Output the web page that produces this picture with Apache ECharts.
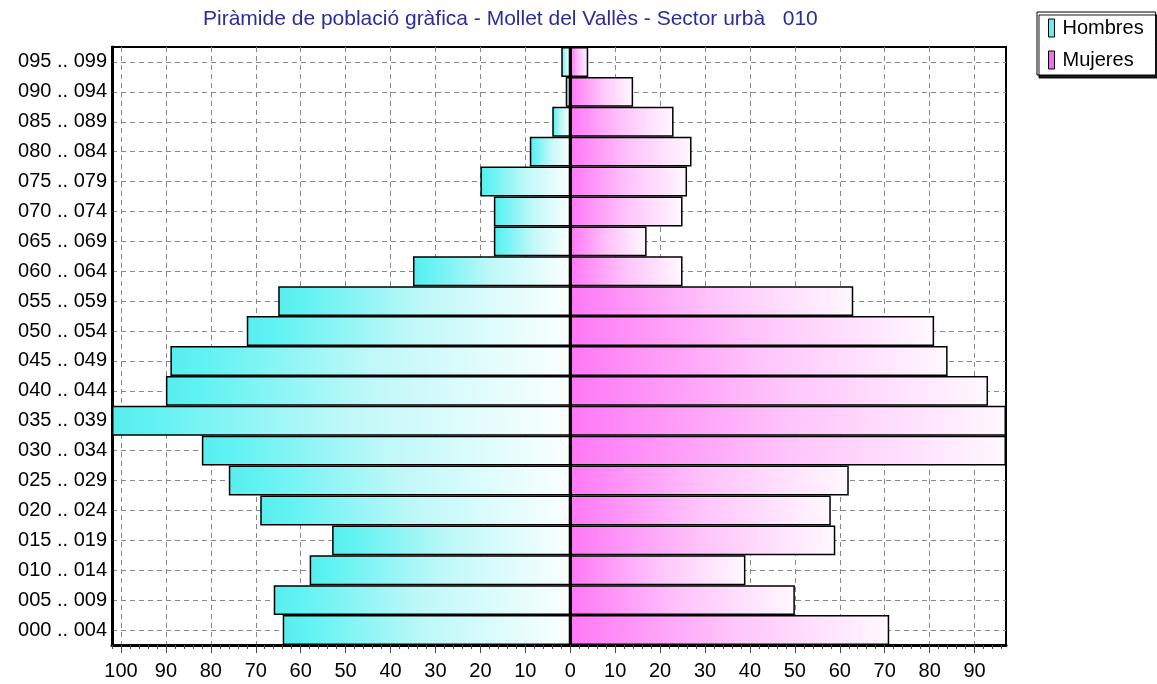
<!DOCTYPE html>
<html>
<head>
<meta charset="utf-8">
<script src="https://cdn.jsdelivr.net/npm/echarts@6/dist/echarts.min.js"></script>
<style>
  html, body { margin: 0; padding: 0; background: #fff; }
  #chart { width: 1157px; height: 684px; }
</style>
</head>
<body>
<div id="chart"></div>
<script>
// grupos de edad, de abajo (000) hacia arriba (095)
const ageGroups = [
  '000 .. 004', '005 .. 009', '010 .. 014', '015 .. 019', '020 .. 024',
  '025 .. 029', '030 .. 034', '035 .. 039', '040 .. 044', '045 .. 049',
  '050 .. 054', '055 .. 059', '060 .. 064', '065 .. 069', '070 .. 074',
  '075 .. 079', '080 .. 084', '085 .. 089', '090 .. 094', '095 .. 099'
]
const hombres = [64, 66, 58, 53, 69, 76, 82, 102, 90, 89, 72, 65, 35, 17, 17, 20, 9, 4, 1, 2]
const mujeres = [71, 50, 39, 59, 58, 62, 97, 97, 93, 84, 81, 63, 25, 17, 25, 26, 27, 23, 14, 4]
const majorTicks = [-100, -90, -80, -70, -60, -50, -40, -30, -20, -10, 0, 10, 20, 30, 40, 50, 60, 70, 80, 90]
const minorTicks = []
for (let v = -102; v <= 96; v += 2) minorTicks.push(v)

const xMin = -102
const xMax = 97
const font = 'Arial, "Liberation Sans", sans-serif'

const grad = (stops) => new echarts.graphic.LinearGradient(0, 0, 1, 0, stops)

const chart = echarts.init(document.getElementById('chart'), null, { renderer: 'canvas' })

const option = {
  backgroundColor: '#fff',
  animation: false,
  title: {
    text: 'Piràmide de població gràfica - Mollet del Vallès - Sector urbà   010',
    left: 198,
    top: 4,
    textStyle: { color: '#2b2b9e', fontSize: 21, fontWeight: 'normal', fontFamily: font }
  },
  legend: {
    orient: 'vertical',
    left: 1037,
    top: 12,
    icon: 'rect',
    itemWidth: 6,
    itemHeight: 18,
    itemGap: 12,
    padding: [6, 12, 5, 11],
    borderColor: '#000',
    borderWidth: 1,
    backgroundColor: '#fff',
    shadowColor: 'rgba(0,0,0,0.9)',
    shadowOffsetX: 2,
    shadowOffsetY: 3,
    textStyle: { color: '#000', fontSize: 20, fontFamily: font, padding: [0, 0, 0, 3] },
    data: [
      { name: 'Hombres', itemStyle: { color: '#5ff0f0', borderColor: '#000', borderWidth: 1 } },
      { name: 'Mujeres', itemStyle: { color: '#f070f0', borderColor: '#000', borderWidth: 1 } }
    ]
  },
  graphic: [
    // separador entre filas de la leyenda
    { type: 'line', left: 1037, top: 42, shape: { x1: 0, y1: 0, x2: 117, y2: 0 }, style: { stroke: '#000', lineWidth: 1 } }
  ],
  grid: {
    left: 112,
    right: 151,
    top: 47,
    bottom: 39,
    show: true,
    borderColor: '#000',
    borderWidth: 2,
    backgroundColor: '#fff'
  },
  xAxis: [
    {
      type: 'value',
      min: xMin,
      max: xMax,
      axisLine: { show: true, onZero: false, lineStyle: { color: '#000', width: 3 } },
      axisTick: { show: true, customValues: majorTicks, length: 8, lineStyle: { color: '#444', width: 1 } },
      axisLabel: {
        customValues: majorTicks,
        formatter: v => String(Math.abs(v)),
        color: '#000',
        fontSize: 20,
        fontFamily: font,
        margin: 16
      },
      splitLine: { show: true, lineStyle: { color: '#888', type: [5, 4], width: 1 } }
    },
    {
      // marcas menores cada 2 unidades
      type: 'value',
      position: 'bottom',
      min: xMin,
      max: xMax,
      axisLine: { show: false },
      axisTick: { show: true, customValues: minorTicks, length: 4, lineStyle: { color: '#444', width: 1 } },
      axisLabel: { show: false },
      splitLine: { show: false }
    }
  ],
  yAxis: {
    type: 'category',
    data: ageGroups,
    axisLine: { show: true, onZero: false, lineStyle: { color: '#000', width: 3 } },
    axisTick: { show: false },
    axisLabel: { color: '#000', fontSize: 20, fontFamily: font, margin: 5 },
    splitLine: { show: true, alignWithLabel: true, lineStyle: { color: '#888', type: [5, 4], width: 1 } }
  },
  series: [
    {
      name: 'Hombres',
      type: 'bar',
      stack: 'total',
      barCategoryGap: '0%',
      data: hombres.map(v => -v),
      itemStyle: {
        color: grad([
          { offset: 0, color: '#58eeee' },
          { offset: 0.08, color: '#5ff2f2' },
          { offset: 0.5, color: '#bff8f8' },
          { offset: 1, color: '#fbffff' }
        ]),
        borderColor: '#000',
        borderWidth: 1.5
      },
      markLine: {
        silent: true,
        symbol: 'none',
        label: { show: false },
        lineStyle: { color: '#000', width: 3, type: 'solid' },
        data: [{ xAxis: 0 }]
      }
    },
    {
      name: 'Mujeres',
      type: 'bar',
      stack: 'total',
      barCategoryGap: '0%',
      data: mujeres,
      itemStyle: {
        color: grad([
          { offset: 0, color: '#ff78f6' },
          { offset: 0.5, color: '#ffc4fb' },
          { offset: 1, color: '#fff8ff' }
        ]),
        borderColor: '#000',
        borderWidth: 1.5
      }
    }
  ]
}

chart.setOption(option)
</script>
</body>
</html>
